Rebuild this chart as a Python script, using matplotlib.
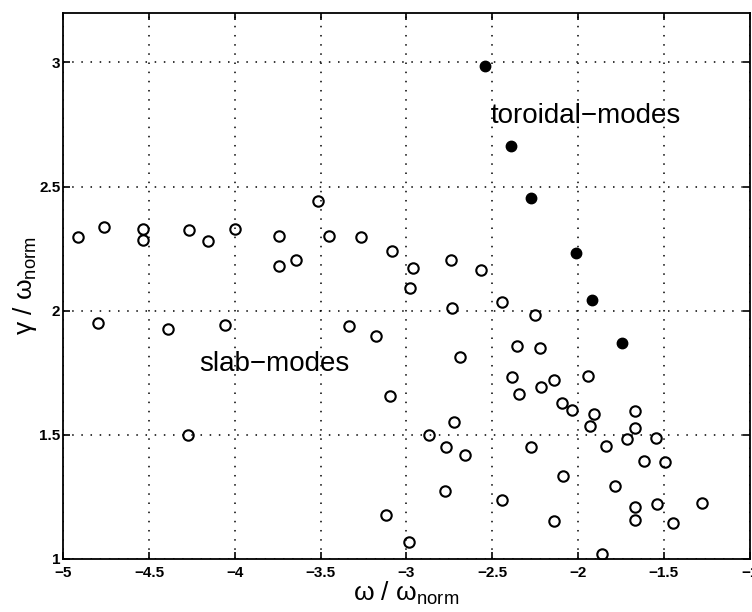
import numpy as np
import matplotlib.pyplot as plt

plt.rcParams['font.family'] = ['Liberation Sans', 'DejaVu Sans']
plt.rcParams['mathtext.fontset'] = 'custom'
plt.rcParams['mathtext.rm'] = 'Liberation Sans'
plt.rcParams['mathtext.it'] = 'Liberation Sans:italic'

# slab-modes (open circles)
slab_w = [-4.915, -4.761, -4.536, -4.536, -4.268, -4.158, -3.998, -3.740, -3.740,
          -3.642, -3.514, -3.453, -3.264,
          -3.085, -2.964, -2.979, -2.742, -2.568, -2.441, -2.732,
          -4.796, -4.387, -4.060, -4.272, -3.337, -3.175,
          -2.686, -3.098, -2.724, -2.869, -2.769, -2.657, -2.773, -3.120, -2.985,
          -2.249, -2.358, -2.222, -2.383, -2.141, -2.216, -2.347, -1.940, -2.094,
          -2.035, -1.909, -1.933, -1.671, -1.671, -1.713, -1.545, -1.840, -2.276,
          -1.615, -1.491, -2.090, -1.784, -2.441, -1.671, -1.542, -1.279, -1.671,
          -2.141, -1.447, -1.861]
slab_g = [2.297, 2.337, 2.327, 2.286, 2.324, 2.281, 2.327, 2.300, 2.181,
          2.206, 2.442, 2.302, 2.297,
          2.241, 2.170, 2.091, 2.202, 2.163, 2.033, 2.009,
          1.949, 1.925, 1.944, 1.497, 1.939, 1.896,
          1.812, 1.657, 1.550, 1.497, 1.451, 1.419, 1.272, 1.177, 1.068,
          1.984, 1.858, 1.849, 1.732, 1.722, 1.691, 1.663, 1.735, 1.628,
          1.598, 1.585, 1.534, 1.596, 1.526, 1.482, 1.485, 1.453, 1.451,
          1.394, 1.390, 1.335, 1.293, 1.237, 1.210, 1.221, 1.224, 1.157,
          1.151, 1.146, 1.021]

# toroidal-modes (filled dots)
tor_w = [-2.543, -2.389, -2.272, -2.012, -1.921, -1.742]
tor_g = [2.984, 2.664, 2.455, 2.232, 2.043, 1.869]

xticks = [-5, -4.5, -4, -3.5, -3, -2.5, -2, -1.5, -1]
yticks = [1, 1.5, 2, 2.5, 3]
xtick_labels = ['\u22125', '\u22124.5', '\u22124', '\u22123.5', '\u22123',
                '\u22122.5', '\u22122', '\u22121.5', '\u22121']
ytick_labels = ['1', '1.5', '2', '2.5', '3']

fig = plt.figure(figsize=(7.52, 6.12), dpi=100)
ax = fig.add_axes([0.084, 0.087, 0.913, 0.892])

ax.plot(slab_w, slab_g, 'o', mfc='none', mec='black', ms=7.5, mew=1.5)
ax.plot(tor_w, tor_g, 'o', mfc='black', mec='black', ms=7.5)

ax.set_xlim(-5, -1)
ax.set_ylim(1, 3.2)
ax.set_xticks(xticks)
ax.set_yticks(yticks)
ax.set_xticklabels(xtick_labels, fontweight='bold', fontsize=11)
ax.set_yticklabels(ytick_labels, fontweight='bold', fontsize=11)
ax.tick_params(direction='in', top=True, right=True, length=5, width=1.2)
ax.tick_params(axis='x', pad=5)
ax.tick_params(axis='y', pad=2)
ax.grid(True, linestyle=(0, (1, 5)), color='black', linewidth=1.1)
for s in ax.spines.values():
    s.set_linewidth(1.3)

ax.text(-2.509, 2.783, 'toroidal\u2212modes', fontsize=20, va='center', ha='left')
ax.text(-4.208, 1.783, 'slab\u2212modes', fontsize=20, va='center', ha='left')

ax.set_xlabel(r'$\mathrm{ω\ /\ ω_{norm}}$', fontsize=19, labelpad=0)
ax.set_ylabel(r'$\mathrm{γ\ /\ ω_{norm}}$', fontsize=19, labelpad=0)

fig.savefig('out.png', dpi=100)
